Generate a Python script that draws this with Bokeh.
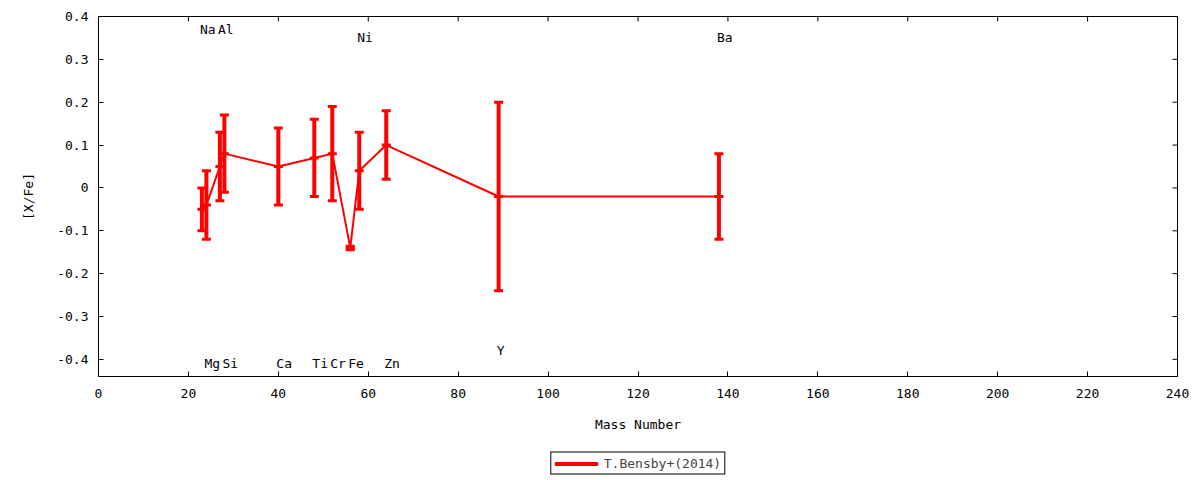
from math import pi

from bokeh.plotting import figure
from bokeh.layouts import column
from bokeh.models import (ColumnDataSource, Range1d, FixedTicker,
                          PrintfTickFormatter, Legend, LegendItem)
from bokeh.core.properties import value
from bokeh.embed import file_html
from bokeh.resources import INLINE

# T.Bensby+(2014) abundance pattern
elements = ["Na", "Mg", "Al", "Si", "Ca", "Ti", "Cr", "Fe", "Ni", "Zn", "Y", "Ba"]
mass = [23, 24, 27, 28, 40, 48, 52, 56, 58, 64, 89, 138]
xfe = [-0.05, -0.04, 0.05, 0.08, 0.05, 0.07, 0.08, -0.14, 0.04, 0.10, -0.02, -0.02]
err = [0.05, 0.08, 0.08, 0.09, 0.09, 0.09, 0.11, 0.004, 0.09, 0.08, 0.22, 0.10]
label_y = [0.37, -0.41, 0.37, -0.41, -0.41, -0.41, -0.41, -0.41, 0.35, -0.41, -0.38, 0.35]

x_ticks = [0, 20, 40, 60, 80, 100, 120, 140, 160, 180, 200, 220, 240]
y_ticks = [-0.4, -0.3, -0.2, -0.1, 0, 0.1, 0.2, 0.3, 0.4]
x_lo, x_hi = 0, 240
y_lo, y_hi = -0.44, 0.4

FONT = "DejaVu Sans Mono"
RED = "#ff0000"

src = ColumnDataSource(dict(
	x=mass, y=xfe,
	lo=[v - e for v, e in zip(xfe, err)],
	hi=[v + e for v, e in zip(xfe, err)],
	name=elements, ly=label_y))

p = figure(width=1192, height=446, output_backend="svg", toolbar_location=None,
	x_range=Range1d(x_lo, x_hi), y_range=Range1d(y_lo, y_hi),
	min_border_left=98, min_border_top=16, min_border_right=15, min_border_bottom=70)
p.grid.visible = False
p.outline_line_color = "black"
p.outline_line_width = 1

for ax, ticks in ((p.xaxis[0], x_ticks), (p.yaxis[0], y_ticks)):
	ax.ticker = FixedTicker(ticks=ticks)
	ax.major_tick_in = 5
	ax.major_tick_out = 0
	ax.minor_tick_line_color = None
	ax.axis_line_color = None
	ax.major_label_text_font = FONT
	ax.major_label_text_font_size = "13px"
	ax.major_label_text_color = "black"
	ax.axis_label_text_font = FONT
	ax.axis_label_text_font_size = "13px"
	ax.axis_label_text_font_style = "normal"
	ax.axis_label_text_color = "black"

p.xaxis.axis_label = "Mass Number"
p.xaxis.major_label_standoff = 12
p.xaxis.axis_label_standoff = 16
p.yaxis.axis_label = "[X/Fe]"
p.yaxis.major_label_standoff = 10
p.yaxis.axis_label_standoff = 18
p.yaxis.formatter = PrintfTickFormatter(format="%.1f")
p.yaxis.major_label_overrides = {0: "0"}

# mirrored inward ticks on top and right (half of each dash is clipped by the frame)
p.scatter(x=x_ticks, y=[y_hi] * len(x_ticks), marker="dash", angle=pi / 2, size=10,
	line_color="black", line_width=1)
p.scatter(x=[x_hi] * len(y_ticks), y=y_ticks, marker="dash", size=10,
	line_color="black", line_width=1)

# error bars, caps, connecting line
p.segment(x0="x", y0="lo", x1="x", y1="hi", source=src, line_color=RED, line_width=4)
p.scatter(x="x", y="lo", source=src, marker="dash", size=9, line_color=RED, line_width=3)
p.scatter(x="x", y="hi", source=src, marker="dash", size=9, line_color=RED, line_width=3)
p.scatter(x="x", y="y", source=src, marker="dash", size=9, line_color=RED, line_width=3)
p.line(x="x", y="y", source=src, line_color=RED, line_width=2)

# element names
p.text(x="x", y="ly", text="name", source=src, text_align="left", text_baseline="middle",
	x_offset=-2, text_font=value(FONT), text_font_size="13px", text_color="black")

# legend strip under the plot; its key line uses the series but lies outside the strip's view
leg = figure(width=1192, height=34, output_backend="svg", toolbar_location=None,
	x_range=Range1d(x_lo, x_hi), y_range=Range1d(1, 2),
	x_axis_location=None, y_axis_location=None,
	min_border_left=98, min_border_right=15, min_border_top=0, min_border_bottom=0)
leg.grid.visible = False
leg.outline_line_color = None
key_line = leg.line(x="x", y="y", source=src, line_color=RED, line_width=4)

legend = Legend(items=[LegendItem(label="T.Bensby+(2014)", renderers=[key_line])],
	location="center", orientation="horizontal",
	label_text_font=FONT, label_text_font_size="13px",
	border_line_color="black", border_line_width=1, border_line_alpha=1,
	glyph_width=44, glyph_height=14, padding=3, spacing=0, margin=0,
	label_standoff=6, background_fill_alpha=1)
leg.add_layout(legend)

open("out.html", "w").write(file_html(column(p, leg), INLINE))
